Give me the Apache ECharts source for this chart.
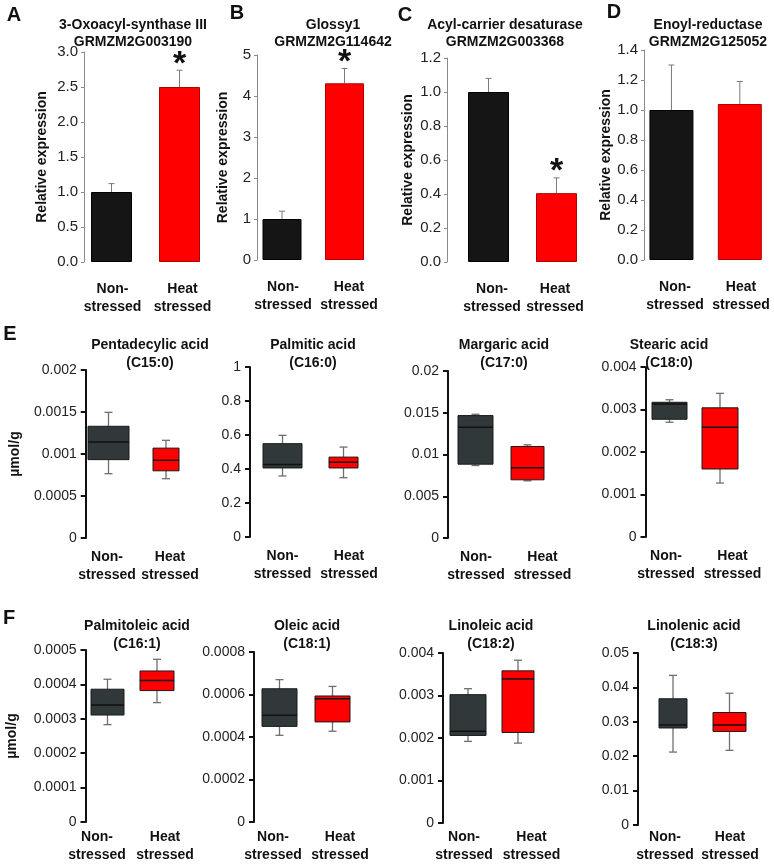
<!DOCTYPE html>
<html>
<head>
<meta charset="utf-8">
<script src="https://cdn.jsdelivr.net/npm/echarts@6/dist/echarts.min.js"></script>
<style>
  html, body { margin: 0; padding: 0; background: #fff; }
  #main { width: 774px; height: 864px; }
</style>
</head>
<body>
<div id="main"></div>
<script>
// --- data ---
const groups = ['Non-\nstressed', 'Heat\nstressed'];

// A-D: relative expression (mean, error)
const geneNames = ['3-Oxoacyl-synthase III', 'Glossy1', 'Acyl-carrier desaturase', 'Enoyl-reductase'];
const geneIds = ['GRMZM2G003190', 'GRMZM2G114642', 'GRMZM2G003368', 'GRMZM2G125052'];
const geneMeans = [[1.0, 2.5], [1.0, 4.31], [1.0, 0.405], [1.0, 1.04]];
const geneErrors = [[0.12, 0.24], [0.19, 0.36], [0.08, 0.09], [0.30, 0.15]];
const geneStars = [[0, 1], [0, 1], [0, 1], [0, 0]];
const geneMax = [3, 5, 1.2, 1.4];
const geneStep = [0.5, 1, 0.2, 0.2];
const geneDecimals = [1, 0, 1, 1];

// E-F: fatty acids, boxes as [min, Q1, median, Q3, max]
const acidNames = ['Pentadecylic acid', 'Palmitic acid', 'Margaric acid', 'Stearic acid',
  'Palmitoleic acid', 'Oleic acid', 'Linoleic acid', 'Linolenic acid'];
const acidCodes = ['(C15:0)', '(C16:0)', '(C17:0)', '(C18:0)', '(C16:1)', '(C18:1)', '(C18:2)', '(C18:3)'];
const acidNonStressed = [
  [0.000766, 0.000933, 0.001143, 0.00133, 0.001496],
  [0.359, 0.406, 0.427, 0.549, 0.598],
  [0.00868, 0.00884, 0.01327, 0.01466, 0.01482],
  [0.0027, 0.00277, 0.00313, 0.00317, 0.00323],
  [0.000283, 0.000311, 0.00034, 0.000386, 0.000415],
  [0.000408, 0.00045, 0.000502, 0.000627, 0.00067],
  [0.00192, 0.00206, 0.00216, 0.00302, 0.00316],
  [0.0212, 0.0282, 0.0291, 0.0367, 0.0435]
];
const acidHeatStressed = [
  [0.000706, 0.0008, 0.000925, 0.00107, 0.001163],
  [0.349, 0.406, 0.44, 0.47, 0.529],
  [0.00685, 0.00697, 0.00841, 0.01096, 0.01116],
  [0.00127, 0.0016, 0.00258, 0.00304, 0.00338],
  [0.000347, 0.000382, 0.000411, 0.000439, 0.000473],
  [0.000427, 0.000471, 0.00058, 0.000593, 0.000638],
  [0.00188, 0.00213, 0.00339, 0.00358, 0.00383],
  [0.0217, 0.0272, 0.0291, 0.0327, 0.0383]
];
const acidMax = [0.002, 1, 0.02, 0.004, 0.0005, 0.0008, 0.004, 0.05];
const acidStep = [0.0005, 0.2, 0.005, 0.001, 0.0001, 0.0002, 0.001, 0.01];

// --- layout / style ---
const FONT = '"Liberation Sans", Arial, sans-serif';
const barFills = ['#151515', '#ff0000'];
const barBorders = ['#000000', '#b00000'];
const boxFills = ['#30383a', '#ff0000'];

// mark grids (bars / boxes)
const barLayout = [
  { left: 77.5, top: 52, width: 136, height: 210, offset: -6.5, barWidth: 41, nameGap: 35 },
  { left: 250.75, top: 55, width: 125, height: 205, offset: -6.25, barWidth: 39, nameGap: 27 },
  { left: 454.5, top: 58, width: 136, height: 204, offset: 7.5, barWidth: 41, nameGap: 32 },
  { left: 637.25, top: 50, width: 143, height: 210, offset: -6.75, barWidth: 44, nameGap: 30 }
];
const boxLayout = [
  { left: 79.75, top: 370, width: 115, height: 168, offset: -6, boxW: [41, 26] },
  { left: 252, top: 367, width: 122, height: 170, offset: 2, boxW: [39, 29] },
  { left: 449.5, top: 371, width: 104, height: 167, offset: 1.5, boxW: [35, 33] },
  { left: 644.25, top: 367, width: 101, height: 170, offset: -1.25, boxW: [35, 36] },
  { left: 82.75, top: 650, width: 99, height: 172, offset: -2.75, boxW: [33, 34] },
  { left: 253, top: 652, width: 106, height: 170, offset: -1, boxW: [35, 35] },
  { left: 443, top: 653, width: 100, height: 170, offset: 0, boxW: [36, 32] },
  { left: 644.75, top: 653, width: 113, height: 172, offset: 6.75, boxW: [28, 33] }
];
// centres of the two category labels under each panel (A-D, then E-F)
const labelCentres = [
  [112.5, 182.5], [283, 349], [492, 555], [676, 744],
  [107, 170], [282.5, 349], [476, 542.5], [666, 732.5],
  [97, 165], [273, 340], [464, 531.5], [665, 730]
];
const geneTitleX = [133, 333, 505, 708];
const acidTitleX = [150, 313, 504, 669, 137, 307, 491, 694];

function renderError(params, api) {
  const x = api.value(0), v = api.value(1), e = api.value(2), star = api.value(3);
  const base = api.coord([x, v]);
  const top = api.coord([x, v + e]);
  const line = { stroke: '#7a7a7a', lineWidth: 1 };
  const children = [
    { type: 'line', shape: { x1: base[0], y1: base[1], x2: top[0], y2: top[1] }, style: line },
    { type: 'line', shape: { x1: top[0] - 3, y1: top[1], x2: top[0] + 3, y2: top[1] }, style: line }
  ];
  if (star) {
    children.push({
      type: 'text', x: top[0], y: top[1] - 6,
      style: { text: '*', textAlign: 'center', textVerticalAlign: 'middle', font: 'bold 34px ' + FONT, fill: '#111' }
    });
  }
  return { type: 'group', children };
}

function makeBoxRenderer(widths) {
  return function (params, api) {
    const x = api.value(0);
    const pMin = api.coord([x, api.value(1)]);
    const pQ1 = api.coord([x, api.value(2)]);
    const pMed = api.coord([x, api.value(3)]);
    const pQ3 = api.coord([x, api.value(4)]);
    const pMax = api.coord([x, api.value(5)]);
    const cx = pMin[0], w = widths[x], cap = 4;
    const whisker = { stroke: '#6f6f6f', lineWidth: 1.3 };
    return {
      type: 'group',
      children: [
        { type: 'line', shape: { x1: cx, y1: pMax[1], x2: cx, y2: pQ3[1] }, style: whisker },
        { type: 'line', shape: { x1: cx, y1: pQ1[1], x2: cx, y2: pMin[1] }, style: whisker },
        { type: 'line', shape: { x1: cx - cap, y1: pMax[1], x2: cx + cap, y2: pMax[1] }, style: whisker },
        { type: 'line', shape: { x1: cx - cap, y1: pMin[1], x2: cx + cap, y2: pMin[1] }, style: whisker },
        { type: 'rect', shape: { x: cx - w / 2, y: pQ3[1], width: w, height: pQ1[1] - pQ3[1] },
          style: { fill: boxFills[x], stroke: '#1a1a1a', lineWidth: 1 } },
        { type: 'line', shape: { x1: cx - w / 2, y1: pMed[1], x2: cx + w / 2, y2: pMed[1] },
          style: { stroke: '#111', lineWidth: 1.5 } }
      ]
    };
  };
}

const grid = [], xAxis = [], yAxis = [], series = [], texts = [];

function addText(str, x, y, size) {
  texts.push({
    type: 'text', x: x, y: y,
    style: { text: str, textAlign: 'center', textVerticalAlign: 'middle', font: 'bold ' + size + 'px ' + FONT, fill: '#111' }
  });
}

function hiddenX(i) {
  return { type: 'category', gridIndex: i, data: groups, show: false };
}

geneNames.forEach((name, i) => {
  const g = barLayout[i];
  grid.push({ left: g.left, top: g.top, width: g.width, height: g.height });
  xAxis.push(hiddenX(i));
  yAxis.push({
    type: 'value', gridIndex: i, min: 0, max: geneMax[i], interval: geneStep[i], offset: g.offset,
    name: 'Relative expression', nameLocation: 'middle', nameGap: g.nameGap,
    nameTextStyle: { fontFamily: FONT, fontWeight: 'bold', fontSize: 14, color: '#111' },
    axisLine: { show: true, lineStyle: { color: '#8a8a8a', width: 1 } },
    axisTick: { show: true, length: 3, lineStyle: { color: '#8a8a8a' } },
    axisLabel: { margin: 6, fontFamily: '"Liberation Sans Narrow", "Arial Narrow", ' + FONT, fontSize: 15, color: '#222',
      formatter: v => v.toFixed(geneDecimals[i]) },
    splitLine: { show: false }
  });
  series.push({
    type: 'bar', xAxisIndex: i, yAxisIndex: i, barWidth: g.barWidth,
    data: geneMeans[i].map((v, j) => ({ value: v, itemStyle: { color: barFills[j], borderColor: barBorders[j], borderWidth: 1 } }))
  });
  series.push({
    type: 'custom', xAxisIndex: i, yAxisIndex: i, z: 3, renderItem: renderError,
    data: geneMeans[i].map((v, j) => [j, v, geneErrors[i][j], geneStars[i][j]])
  });
  addText(name, geneTitleX[i], 25, 14);
  addText(geneIds[i], geneTitleX[i], 42, 14);
});

acidNames.forEach((name, k) => {
  const i = k + 4;
  const g = boxLayout[k];
  const row = k < 4 ? 0 : 1;
  grid.push({ left: g.left, top: g.top, width: g.width, height: g.height });
  xAxis.push(hiddenX(i));
  const first = k === 0 || k === 4;
  yAxis.push({
    type: 'value', gridIndex: i, min: 0, max: acidMax[k], interval: acidStep[k], offset: g.offset,
    name: first ? 'µmol/g' : '', nameLocation: 'middle', nameGap: row === 0 ? 64 : 66,
    nameTextStyle: { fontFamily: FONT, fontWeight: 'bold', fontSize: 14, color: '#111' },
    axisLine: { show: true, lineStyle: { color: '#111', width: 2 } },
    axisTick: { show: true, length: 5, lineStyle: { color: '#111', width: 2 } },
    axisLabel: { margin: 9, fontFamily: FONT, fontSize: 14, color: '#222' },
    splitLine: { show: false }
  });
  series.push({
    type: 'custom', xAxisIndex: i, yAxisIndex: i, renderItem: makeBoxRenderer(g.boxW),
    encode: { x: 0, y: [1, 2, 3, 4, 5] },
    data: [[0].concat(acidNonStressed[k]), [1].concat(acidHeatStressed[k])]
  });
  const ty = row === 0 ? 345 : 626;
  addText(name, acidTitleX[k], ty, 14);
  addText(acidCodes[k], acidTitleX[k], ty + 18, 14);
});

// label-only grids carrying the category names under each panel
labelCentres.forEach((c, p) => {
  const g = p < 4 ? barLayout[p] : boxLayout[p - 4];
  const step = c[1] - c[0];
  const idx = grid.length;
  const margin = p < 4 ? 18 : (p < 8 ? 10 : 15);
  grid.push({ left: c[0] - step / 2, top: g.top, width: step * 2, height: g.height });
  xAxis.push({
    type: 'category', gridIndex: idx, data: groups,
    axisLine: { show: false }, axisTick: { show: false },
    axisLabel: { interval: 0, margin: margin, fontFamily: FONT, fontWeight: 'bold', fontSize: 14, lineHeight: 18, color: '#111' }
  });
  yAxis.push({ type: 'value', gridIndex: idx, show: false, min: 0, max: 1 });
});

// panel letters
addText('A', 14, 15, 20);
addText('B', 237, 13, 20);
addText('C', 405, 15, 20);
addText('D', 614, 12, 20);
addText('E', 10, 334, 20);
addText('F', 9, 618, 20);

const chart = echarts.init(document.getElementById('main'));
chart.setOption({
  animation: false,
  backgroundColor: '#fff',
  grid: grid,
  xAxis: xAxis,
  yAxis: yAxis,
  series: series,
  graphic: { elements: texts }
});
</script>
</body>
</html>
